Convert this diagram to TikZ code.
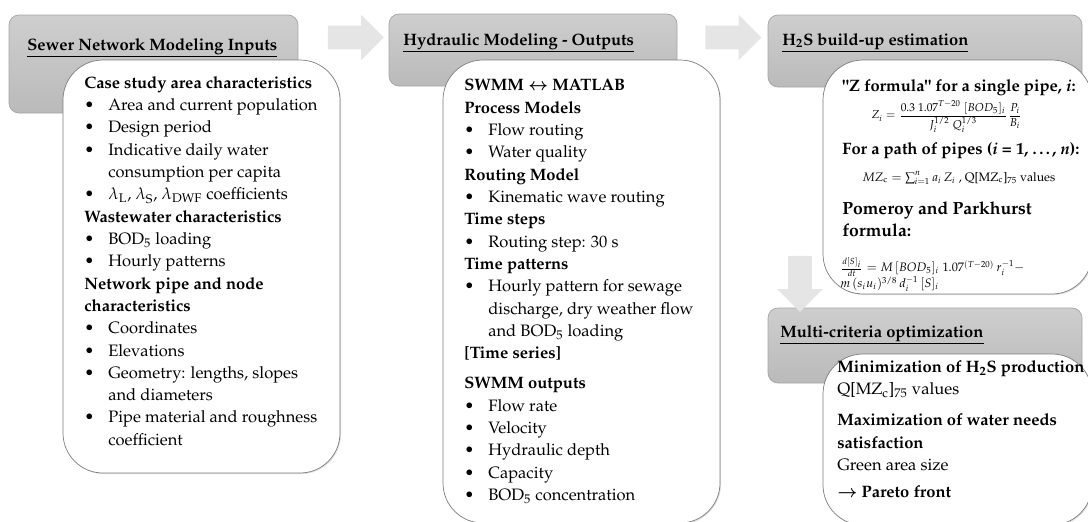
\documentclass[tikz,border=0pt]{standalone}
\usepackage[T1]{fontenc}
\usepackage{mathpazo}
\usepackage{amsmath,amssymb}
\usepackage{tikz}
\usetikzlibrary{positioning,shapes.arrows,shadows}
\definecolor{hdrtop}{RGB}{206,206,206}
\definecolor{hdrbot}{RGB}{186,186,186}
\definecolor{hdrline}{RGB}{165,165,165}
\definecolor{cardline}{RGB}{125,125,125}
\definecolor{flowgray}{RGB}{229,229,229}
\newcommand{\bul}{\makebox[0.48cm][l]{\textbullet}}
\newcommand{\cont}{\hspace*{0.48cm}}
\newcommand{\BOD}{BOD\textsubscript{5}}

\begin{document}
\begin{tikzpicture}[x=0.02cm,y=-0.02cm,
  hdr/.style={draw=hdrline,top color=hdrtop,bottom color=hdrbot,rounded corners=0.2cm},
  card/.style={draw=cardline,fill=white,rounded corners=0.8cm,
    drop shadow={opacity=0.25,shadow xshift=0.6pt,shadow yshift=-0.6pt}},
  title/.style={anchor=west,inner sep=0pt,font=\fontsize{9.4}{12.7}\selectfont\bfseries},
  body/.style={anchor=north west,inner sep=0pt,align=left,font=\fontsize{9.4}{12.7}\selectfont},
  eqn/.style={inner sep=0pt,font=\fontsize{7}{9}\selectfont},
  flow/.style={single arrow,fill=flowgray,draw=none,inner sep=0.23cm,
    single arrow head extend=0.22cm,minimum height=1.12cm,single arrow head indent=0pt}
]
\useasboundingbox (0,0) rectangle (1088,521);

% Panel 1: inputs
\draw[hdr] (9,15) rectangle (298,113);
\node[title] (t1) at (27,48) {\underline{Sewer Network Modeling Inputs}};
\draw[card] (63,60) rectangle (340,473);
\node[body] (inputs) at (84,76) {%
\textbf{Case study area characteristics}\\
\bul Area and current population\\
\bul Design period\\
\bul Indicative daily water\\
\cont consumption per capita\\
\bul $\lambda_\mathrm{L}$, $\lambda_\mathrm{S}$, $\lambda_\mathrm{DWF}$ coefficients\\
\textbf{Wastewater characteristics}\\
\bul \BOD{} loading\\
\bul Hourly patterns\\
\textbf{Network pipe and node}\\
\textbf{characteristics}\\
\bul Coordinates\\
\bul Elevations\\
\bul Geometry: lengths, slopes\\
\cont and diameters\\
\bul Pipe material and roughness\\
\cont coefficient};

% Panel 2: hydraulic modeling
\draw[hdr] (389,14) rectangle (677,86);
\node[title] (t2) at (403,43) {\underline{Hydraulic Modeling - Outputs}};
\draw[card] (443,60) rectangle (720,523);
\node[body] (outputs) at (464,79) {%
\textbf{SWMM $\boldsymbol{\leftrightarrow}$ MATLAB}\\
\textbf{Process Models}\\
\bul Flow routing\\
\bul Water quality\\
\textbf{Routing Model}\\
\bul Kinematic wave routing\\
\textbf{Time steps}\\
\bul Routing step: 30 s\\
\textbf{Time patterns}\\
\bul Hourly pattern for sewage\\
\cont discharge, dry weather flow\\
\cont and \BOD{} loading\\
\textbf{[Time series]}\\[0.16cm]
\textbf{SWMM outputs}\\
\bul Flow rate\\
\bul Velocity\\
\bul Hydraulic depth\\
\bul Capacity\\
\bul \BOD{} concentration};

% Panel 3: H2S build-up
\draw[hdr] (768,15) rectangle (1082,87);
\node[title] (t3) at (782,43) {\underline{H\textsubscript{2}S build-up estimation}};
\draw[card] (823,60) rectangle (1092,294);
\node[title] (zhead) at (842,88)
  {\textquotedbl Z formula\textquotedbl{} for a single pipe, \textit{i}:};
\node[eqn,font=\fontsize{6.5}{8}\selectfont] (zeq) at (947,117)
  {$Z_i=\dfrac{0.3\;1.07^{T-20}\;[BOD_5]_i}{J_i^{1/2}\;Q_i^{1/3}}\dfrac{P_i}{B_i}$};
\node[title] (pathhead) at (842,151)
  {For a path of pipes (\textit{i} = 1, \ldots, \textit{n}):};
\node[eqn,anchor=west] (mzeq) at (862,178)
  {$MZ_\mathrm{c}=\sum_{i=1}^{n}a_i\,Z_i$ , Q[MZ\textsubscript{c}]\textsubscript{75} values};
\node[body,font=\fontsize{10}{12.7}\selectfont\bfseries] (pphead) at (842,201)
  {Pomeroy and Parkhurst\\formula:};
\node[eqn,anchor=west] (ppeq1) at (840,267)
  {$\frac{d[S]_i}{dt}=M\,[BOD_5]_i\;1.07^{(T-20)}\,r_i^{-1}-$};
\node[eqn,anchor=west] (ppeq2) at (840,284)
  {$m\,(s_iu_i)^{3/8}\,d_i^{-1}\,[S]_i$};

% Panel 4: optimization
\draw[hdr] (768,308) rectangle (1082,383);
\node[title] (t4) at (780,335) {\underline{Multi-criteria optimization}};
\draw[card] (823,354) rectangle (1092,525);
\node[body] (optim) at (837,360) {%
\textbf{Minimization of H\textsubscript{2}S production}\\
Q[MZ\textsubscript{c}]\textsubscript{75} values\\[5pt]
\textbf{Maximization of water needs}\\
\textbf{satisfaction}\\
Green area size\\[3pt]
\textbf{$\boldsymbol{\rightarrow}$ Pareto front}};

% Flow arrows between panels
\node[flow] (f12) at (350,37.5) {};
\node[flow] (f23) at (727.5,37.5) {};
\node[flow,shape border rotate=270] (f34) at (800,278) {};

\end{tikzpicture}
\end{document}
